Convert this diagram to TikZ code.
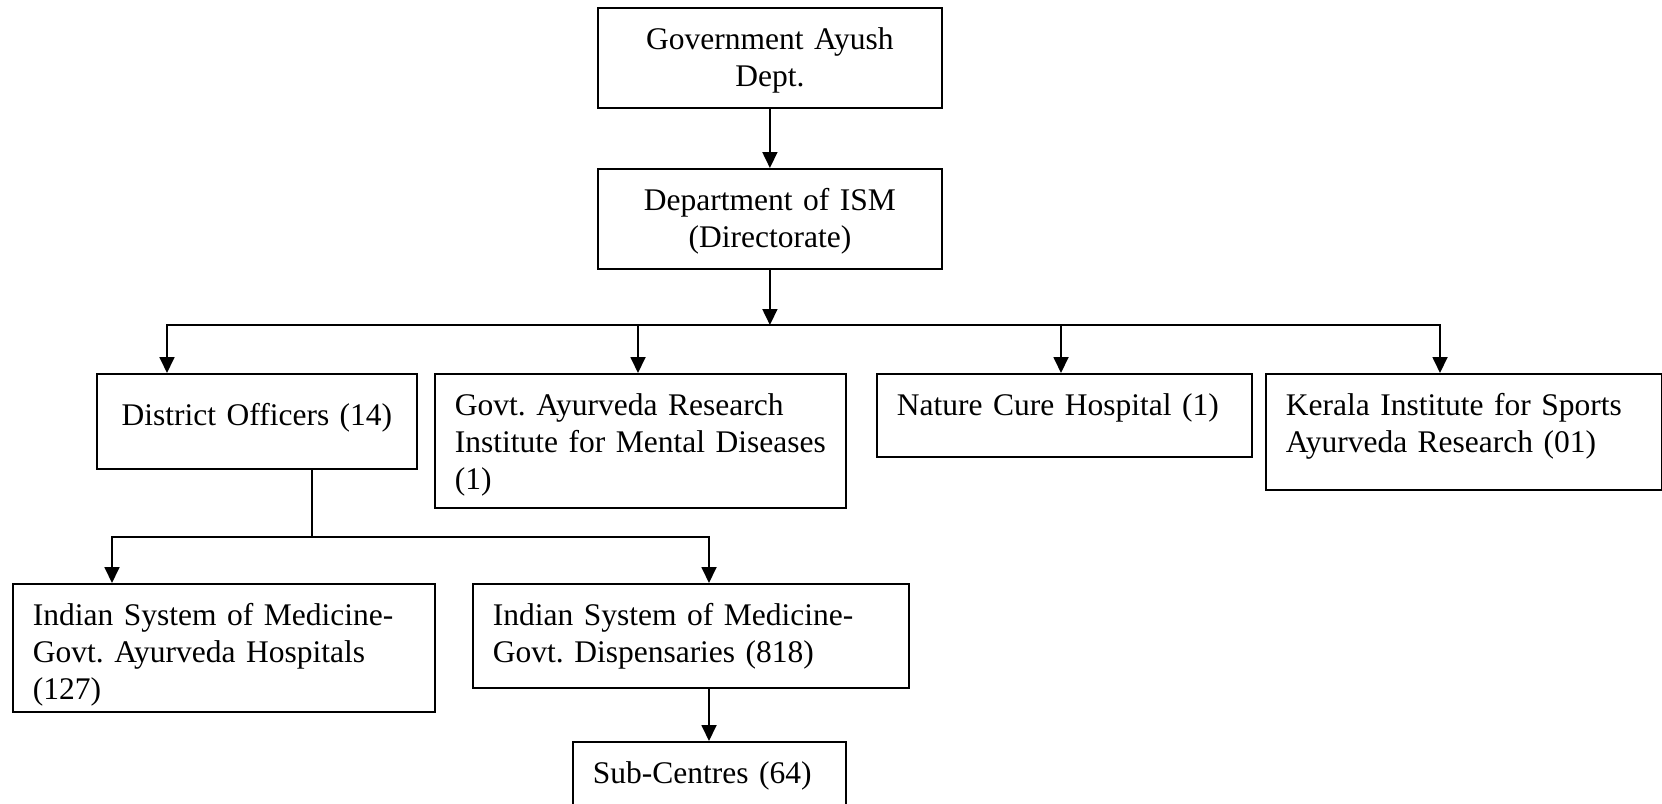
\documentclass[tikz,border=0pt]{standalone}
\usepackage{fontspec}
\setmainfont{Liberation Serif}
\usetikzlibrary{arrows.meta,positioning}

\begin{document}
\begin{tikzpicture}[x=1pt,y=-1pt,>={Triangle[length=16pt,width=15pt]},line width=1.8pt,
  every node/.style={draw,anchor=north west,inner xsep=20pt,inner ysep=0pt,
    font=\fontsize{31.5}{37}\selectfont,text height=42pt,
    execute at begin node={\frenchspacing\hyphenpenalty=10000\relax}}]
\useasboundingbox (0,0) rectangle (1662,803);
\node[align=center,text width=304pt,text depth=58pt] (gov) at (597,7) {Government Ayush\\Dept.};
\node[align=center,text width=304pt,text depth=58pt] (ism) at (597,168) {Department of ISM\\(Directorate)};
\node[align=center,text width=280pt,text height=52pt,text depth=43pt] (dist) at (96,373) {District Officers (14)};
\node[align=left,text width=371pt,text depth=92pt] (gari) at (434,373) {Govt. Ayurveda Research\\Institute for Mental Diseases\\(1)};
\node[align=left,text width=335pt,text depth=41pt] (nch) at (876,373) {Nature Cure Hospital (1)};
\node[align=left,text width=356pt,text depth=74pt] (kisar) at (1265,373) {Kerala Institute for Sports\\Ayurveda Research (01)};
\node[align=left,text width=382pt,text depth=86pt] (ismh) at (12,583) {Indian System of Medicine-\\Govt. Ayurveda Hospitals\\(127)};
\node[align=left,text width=396pt,text depth=62pt] (ismd) at (472,583) {Indian System of Medicine-\\Govt. Dispensaries (818)};
\node[align=left,text width=233pt,text depth=60pt] (sub) at (572,741) {Sub-Centres (64)};
% bus under the directorate
\coordinate (t1) at (167,325);
\coordinate (t2) at (638,325);
\coordinate (t3) at (1061,325);
\coordinate (t4) at (1440,325);
\draw[->] (gov) -- (ism);
\draw[->] (ism.south) -- (ism.south |- t1);
\draw[->] (t2) -| (t1 |- dist.north);
\draw[->] (t2) -- (t2 |- gari.north);
\draw (t2) -- (t3);
\draw[->] (t3) -- (t3 |- nch.north);
\draw[->] (t3) -| (t4 |- kisar.north);
% district officers branch
\coordinate (u0) at (312,537);
\coordinate (u1) at (112,537);
\coordinate (u2) at (709,537);
\draw (u0 |- dist.south) -- (u0);
\draw[->] (u0) -| (u1 |- ismh.north);
\draw[->] (u0) -| (u2 |- ismd.north);
\draw[->] (u2 |- ismd.south) -- (u2 |- sub.north);
\end{tikzpicture}
\end{document}
